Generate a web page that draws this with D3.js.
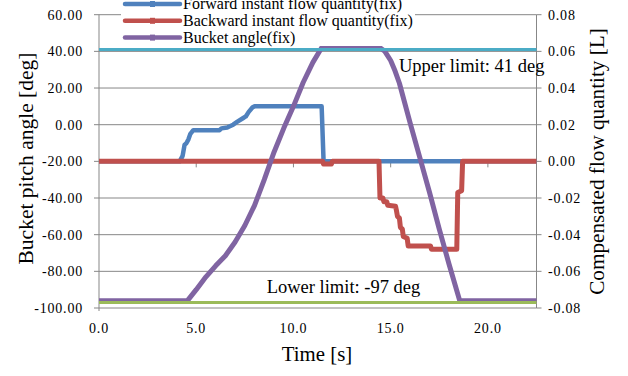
<!DOCTYPE html>
<head>
  <meta charset="utf-8">
  <style>
    body { margin: 0; background: #fff; }
    text { font-family: "Liberation Serif", "Times New Roman", serif; fill: #000; }
  </style>
  <script src="https://cdn.jsdelivr.net/npm/d3@7"></script>
</head>
<body>
  <script>

    // ticks
    const timeTicks = [0, 5, 10, 15, 20];
    const angleTicks = [-100, -80, -60, -40, -20, 0, 20, 40, 60];
    const flowTicks = [-0.08, -0.06, -0.04, -0.02, 0, 0.02, 0.04, 0.06, 0.08];

    // forward instant flow quantity (right axis)
    const forwardT = [0, 4.15, 4.3, 4.4, 4.5, 4.6, 4.7, 4.85, 6.2, 6.3, 6.6, 6.7, 6.9, 7.1, 7.4, 7.55, 7.7, 7.9, 8.0, 11.45, 11.55, 22.5];
    const forwardQ = [0, 0, 0.003, 0.009, 0.010, 0.012, 0.015, 0.017, 0.017, 0.018, 0.0185, 0.019, 0.020, 0.0215, 0.0235, 0.0245, 0.027, 0.0295, 0.030, 0.030, 0, 0];

    // backward instant flow quantity (right axis)
    const backwardT = [0, 11.5, 11.55, 11.95, 12.0, 14.4, 14.45, 14.6, 14.65, 14.8, 14.85, 15.25, 15.3, 15.35, 15.45, 15.5, 15.6, 15.65, 15.85, 15.9, 17.05, 17.1, 18.4, 18.45, 18.65, 18.7, 22.5];
    const backwardQ = [0, 0, -0.0015, -0.0015, 0, 0, -0.020, -0.020, -0.022, -0.022, -0.024, -0.0245, -0.027, -0.030, -0.031, -0.036, -0.037, -0.041, -0.042, -0.0462, -0.0462, -0.048, -0.048, -0.017, -0.016, 0, 0];

    // bucket angle (left axis)
    const angleT = [0, 4.55, 5.0, 5.5, 6.0, 6.5, 7.0, 7.5, 8.0, 8.5, 9.0, 9.5, 10.0, 10.5, 11.0, 11.45, 14.45, 14.7, 15.0, 15.2, 15.45, 16.0, 16.5, 17.0, 17.5, 18.0, 18.55, 22.5];
    const angleV = [-96, -96, -90, -83, -77, -71.5, -64, -55, -44, -30, -15, -2, 10, 23, 34, 42, 42, 40, 35, 30, 22.6, 1, -18, -37, -57, -76, -96, -96];

    const upperLimit = 41;
    const lowerLimit = -97;

    const render = () => {
      const w = 628, h = 376;
      const svg = d3.select('body').append('svg')
          .attr('width', w)
          .attr('height', h);

      const x = d3.scaleLinear().domain([0, 22.5]).range([99, 536.5]);
      const yL = d3.scaleLinear().domain([-100, 60]).range([308, 14.7]);
      const yR = d3.scaleLinear().domain([-0.08, 0.08]).range([308, 14.7]);
      const grey = '#878787';

      // grid
      svg.selectAll('.grid')
        .data(angleTicks)
        .enter()
        .append('line')
        .attr('x1', x(0)).attr('x2', x(22.5))
        .attr('y1', d => yL(d)).attr('y2', d => yL(d))
        .attr('stroke', grey).attr('stroke-width', 1);

      // axis lines
      svg.append('line').attr('x1', x(0)).attr('x2', x(0)).attr('y1', yL(60)).attr('y2', yL(-100) + 3)
        .attr('stroke', grey);
      svg.append('line').attr('x1', x(22.5)).attr('x2', x(22.5)).attr('y1', yL(60)).attr('y2', yL(-100))
        .attr('stroke', grey);

      // tick marks
      svg.selectAll('.tl').data(angleTicks).enter().append('line')
        .attr('x1', x(0) - 5).attr('x2', x(0))
        .attr('y1', d => yL(d)).attr('y2', d => yL(d)).attr('stroke', grey);
      svg.selectAll('.tr').data(flowTicks).enter().append('line')
        .attr('x1', x(22.5)).attr('x2', x(22.5) + 5)
        .attr('y1', d => yR(d)).attr('y2', d => yR(d)).attr('stroke', grey);
      svg.selectAll('.tx').data(timeTicks.slice(1)).enter().append('line')
        .attr('x1', d => x(d)).attr('x2', d => x(d))
        .attr('y1', yR(0)).attr('y2', yR(0) + 6).attr('stroke', grey);

      // tick labels
      svg.selectAll('.ll').data(angleTicks).enter().append('text')
        .text(d => d.toFixed(2))
        .attr('x', 83).attr('y', d => yL(d)).attr('dy', '0.35em')
        .attr('text-anchor', 'end')
        .attr('font-size', '14px').attr('letter-spacing', '0.8px');
      svg.selectAll('.rl').data(flowTicks).enter().append('text')
        .text(d => d.toFixed(2))
        .attr('x', 548).attr('y', d => yR(d)).attr('dy', '0.35em')
        .attr('font-size', '14px').attr('letter-spacing', '0.8px');
      svg.selectAll('.xl').data(timeTicks).enter().append('text')
        .text(d => d.toFixed(1))
        .attr('x', d => x(d)).attr('y', 333)
        .attr('text-anchor', 'middle')
        .attr('font-size', '14px').attr('letter-spacing', '0.8px');

      // axis titles
      svg.append('text').text('Time [s]')
        .attr('x', 317).attr('y', 360.5)
        .attr('text-anchor', 'middle').attr('font-size', '20.8px');
      svg.append('text').text('Bucket pitch angle [deg]')
        .attr('transform', 'translate(33,158.5) rotate(-90)')
        .attr('text-anchor', 'middle').attr('font-size', '21.5px');
      svg.append('text').text('Compensated flow quantity [L]')
        .attr('transform', 'translate(604,161.5) rotate(-90)')
        .attr('text-anchor', 'middle').attr('font-size', '21.2px');

      // series
      const lineR = d3.line().x(d => x(d[0])).y(d => yR(d[1]));
      const lineL = d3.line().x(d => x(d[0])).y(d => yL(d[1]));

      svg.append('path')
        .datum(d3.zip(forwardT, forwardQ))
        .attr('d', lineR)
        .attr('fill', 'none').attr('stroke', '#4f81bd').attr('stroke-width', 4.5)
        .attr('stroke-linejoin', 'round');

      svg.append('path')
        .datum(d3.zip(backwardT, backwardQ))
        .attr('d', lineR)
        .attr('fill', 'none').attr('stroke', '#c0504d').attr('stroke-width', 5)
        .attr('stroke-linejoin', 'round');

      svg.append('path')
        .datum(d3.zip(angleT, angleV))
        .attr('d', lineL)
        .attr('fill', 'none').attr('stroke', '#8064a2').attr('stroke-width', 5)
        .attr('stroke-linejoin', 'round');

      svg.append('path')
        .datum([[0, upperLimit], [22.5, upperLimit]])
        .attr('d', lineL)
        .attr('fill', 'none').attr('stroke', '#4bacc6').attr('stroke-width', 3);

      svg.append('path')
        .datum([[0, lowerLimit], [22.5, lowerLimit]])
        .attr('d', lineL)
        .attr('fill', 'none').attr('stroke', '#9bbb59').attr('stroke-width', 3);

      // limit labels
      svg.append('text').text('Upper limit: ' + upperLimit + ' deg')
        .attr('x', 399).attr('y', 71.7).attr('font-size', '18.5px');
      svg.append('text').text('Lower limit: ' + lowerLimit + ' deg')
        .attr('x', 266.7).attr('y', 293.3).attr('font-size', '18.5px');

      // legend
      const legend = [
        { name: 'Forward instant flow quantity(fix)', color: '#4f81bd' },
        { name: 'Backward instant flow quantity(fix)', color: '#c0504d' },
        { name: 'Bucket angle(fix)', color: '#8064a2' }
      ];
      svg.append('rect').attr('x', 121).attr('y', 0).attr('width', 294).attr('height', 46).attr('fill', '#fff');
      const lg = svg.selectAll('.lg').data(legend).enter().append('g')
        .attr('transform', (d, i) => `translate(0, ${4 + i * 16.8})`);
      lg.append('line')
        .attr('x1', 125).attr('x2', 180).attr('y1', 0).attr('y2', 0)
        .attr('stroke', d => d.color).attr('stroke-width', 4.5).attr('stroke-linecap', 'round');
      lg.append('rect')
        .attr('x', 150).attr('y', -3).attr('width', 5).attr('height', 6)
        .attr('fill', d => d.color);
      lg.append('text').text(d => d.name)
        .attr('x', 183).attr('y', 5)
        .attr('font-size', '16px');
    };

    render();

  </script>
</body>
